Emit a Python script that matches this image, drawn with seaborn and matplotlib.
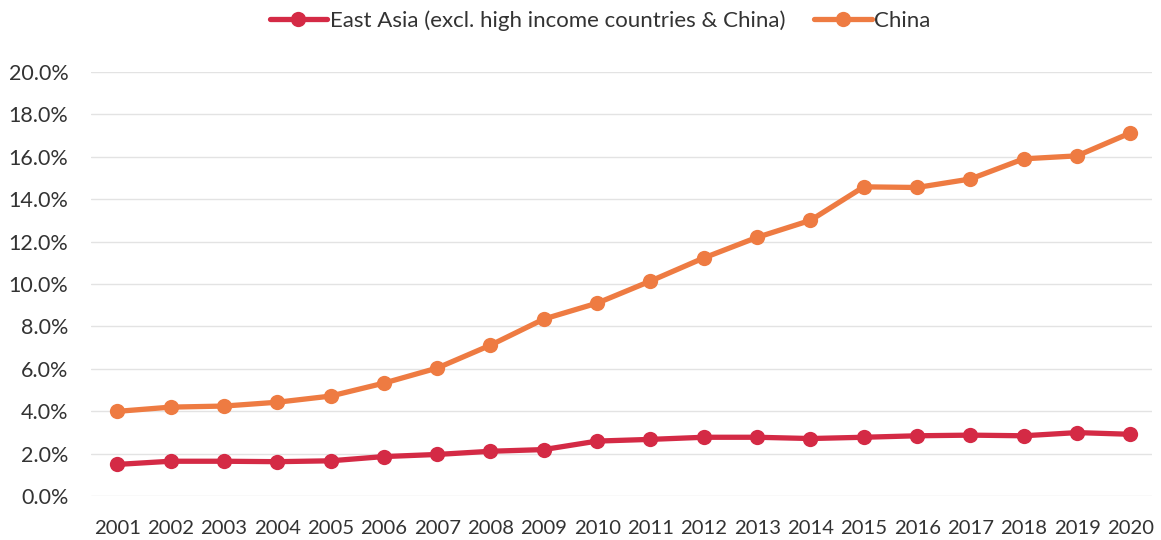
import matplotlib
matplotlib.use("Agg")
import matplotlib.pyplot as plt
import seaborn as sns
import pandas as pd
from matplotlib.ticker import FuncFormatter

years = [str(y) for y in range(2001, 2021)]
east_asia = [1.50, 1.65, 1.65, 1.63, 1.67, 1.87, 1.97, 2.12, 2.20, 2.60,
             2.68, 2.78, 2.78, 2.72, 2.78, 2.85, 2.88, 2.85, 3.00, 2.92]
china = [4.00, 4.20, 4.25, 4.43, 4.72, 5.33, 6.04, 7.12, 8.35, 9.10,
         10.14, 11.23, 12.20, 13.00, 14.58, 14.55, 14.95, 15.90, 16.04, 17.12]
series_names = ["East Asia (excl. high income countries & China)", "China"]
colors = ["#D42A45", "#EE7B42"]
yticks = [0, 2, 4, 6, 8, 10, 12, 14, 16, 18, 20]

df = pd.DataFrame({
    "year": years * 2,
    "value": east_asia + china,
    "series": [series_names[0]] * len(years) + [series_names[1]] * len(years),
})

sns.set_style("white")
plt.rcParams["font.family"] = ["Lato", "DejaVu Sans"]

fig = plt.figure(figsize=(11.61, 5.40), dpi=100)
ax = fig.add_axes([0.078, 0.081, 0.914, 0.786])
sns.lineplot(data=df, x="year", y="value", hue="series", palette=colors,
             marker="o", markersize=11, markeredgewidth=0, linewidth=3.8,
             sort=False, ax=ax)

ax.set_ylim(0, 20)
ax.set_xlim(-0.5, 19.4)
ax.set_yticks(yticks)
ax.yaxis.set_major_formatter(FuncFormatter(lambda v, p: f"{v:.1f}%"))
ax.grid(axis="y", color="#E3E3E3", linewidth=1)
ax.set_axisbelow(True)
for s in ax.spines.values():
    s.set_visible(False)
ax.tick_params(axis="both", length=0, colors="#333333")
ax.tick_params(axis="y", pad=16, labelsize=15.5)
ax.tick_params(axis="x", pad=17, labelsize=14.6)
ax.set_xlabel("")
ax.set_ylabel("")

leg = ax.legend(loc="lower center", bbox_to_anchor=(0.48, 1.05), ncol=2,
                frameon=False, fontsize=16, handlelength=2.6,
                handletextpad=0.1, columnspacing=1.3)
for t in leg.get_texts():
    t.set_color("#333333")

fig.savefig("out.png", dpi=100)
